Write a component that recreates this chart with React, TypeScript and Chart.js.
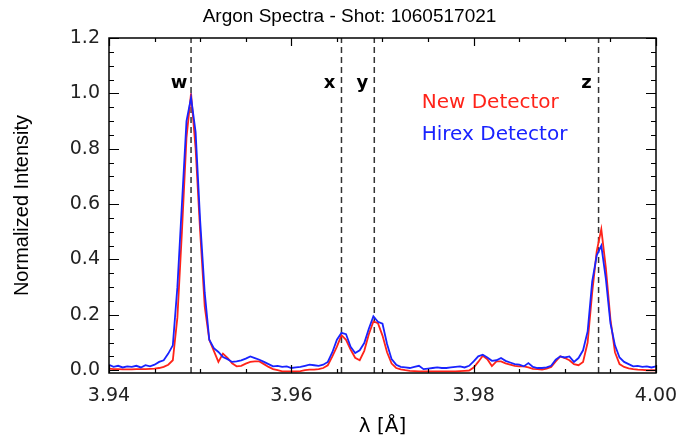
import React, { useEffect, useRef } from 'react';
import { Chart, registerables } from 'chart.js';

Chart.register(...registerables);

// Wavelength sampling grid (Å)
const WAVELENGTHS: number[] = Array.from({ length: 121 }, (_, i) => +(3.94 + i * 0.0005).toFixed(4));

// Normalized intensities
const NEW_DETECTOR: number[] = [
  0.006, 0.004, 0.004, 0.003, 0.003, 0.003, 0.004, 0.004, 0.004, 0.005,
  0.006, 0.008, 0.012, 0.02, 0.036, 0.19, 0.5, 0.84, 1.0, 0.8,
  0.5, 0.23, 0.11, 0.07, 0.03, 0.06, 0.045, 0.025, 0.014, 0.016,
  0.024, 0.03, 0.032, 0.032, 0.022, 0.012, 0.004, 0.0, -0.004, -0.004,
  -0.004, -0.004, -0.003, 0.0, 0.002, 0.002, 0.004, 0.008, 0.018, 0.05,
  0.085, 0.127, 0.11, 0.075, 0.045, 0.036, 0.07, 0.13, 0.176, 0.17,
  0.125, 0.065, 0.024, 0.008, 0.003, 0.0, -0.002, -0.003, -0.004, -0.004,
  -0.004, -0.004, -0.004, -0.004, -0.004, -0.004, -0.004, -0.003, -0.002, -0.001,
  0.01, 0.03, 0.052, 0.04, 0.015, 0.032, 0.032, 0.025, 0.02, 0.016,
  0.014, 0.014, 0.01, 0.005, 0.004, 0.002, 0.006, 0.012, 0.032, 0.05,
  0.044, 0.036, 0.022, 0.018, 0.03, 0.1, 0.28, 0.43, 0.51, 0.37,
  0.185, 0.065, 0.022, 0.012, 0.007, 0.004, 0.002, 0.001, 0.0, 0.0,
  0.0,
];

const HIREX_DETECTOR: number[] = [
  0.02, 0.012, 0.016, 0.01, 0.014, 0.012, 0.016, 0.01, 0.018, 0.014,
  0.02, 0.03, 0.036, 0.06, 0.09, 0.3, 0.6, 0.9, 0.985, 0.86,
  0.54, 0.28, 0.11, 0.08, 0.066, 0.048, 0.04, 0.03, 0.032, 0.036,
  0.042, 0.05, 0.044, 0.038, 0.03, 0.022, 0.014, 0.016, 0.012, 0.014,
  0.008, 0.01, 0.012, 0.016, 0.02, 0.018, 0.016, 0.02, 0.03, 0.065,
  0.11, 0.135, 0.13, 0.085, 0.062, 0.072, 0.098, 0.15, 0.195, 0.175,
  0.168, 0.095, 0.04, 0.02, 0.012, 0.01, 0.008, 0.012, 0.016, 0.004,
  0.006, 0.008, 0.01, 0.008, 0.008, 0.01, 0.012, 0.014, 0.01, 0.016,
  0.032, 0.05, 0.056, 0.046, 0.034, 0.036, 0.044, 0.034, 0.028, 0.022,
  0.02, 0.014, 0.026, 0.012, 0.008, 0.008, 0.01, 0.016, 0.038, 0.05,
  0.046, 0.05, 0.03, 0.044, 0.072, 0.14, 0.32, 0.415, 0.45, 0.33,
  0.17, 0.09, 0.046, 0.03, 0.022, 0.014, 0.016, 0.012, 0.014, 0.01,
  0.014,
];

// Spectral line markers
const LINE_NAMES: string[] = ['w', 'x', 'y', 'z'];
const LINE_POSITIONS: number[] = [3.949, 3.9655, 3.9691, 3.9937];

// Axis ticks
const X_TICKS: number[] = [3.94, 3.96, 3.98, 4.0];
const Y_TICKS: number[] = [0, 0.2, 0.4, 0.6, 0.8, 1.0, 1.2];

const SERIES_NAMES: string[] = ['New Detector', 'Hirex Detector'];
const TITLE = 'Argon Spectra - Shot: 1060517021';

const RED = 'rgb(255,35,25)';
const BLUE = 'rgb(25,35,255)';

const decorPlugin = {
  id: 'decor',
  afterDatasetsDraw(chart: any) {
    const { ctx, chartArea: a, scales, width } = chart;
    const x = scales.x;
    const y = scales.y;
    ctx.save();
    // title
    ctx.font = '19px "Liberation Sans"';
    ctx.fillStyle = '#000';
    ctx.textAlign = 'center';
    ctx.textBaseline = 'middle';
    ctx.fillText(TITLE, width / 2, 17);
    // line labels
    ctx.font = 'bold 18px "DejaVu Sans"';
    LINE_NAMES.forEach((n, i) => {
      ctx.fillText(n, x.getPixelForValue(LINE_POSITIONS[i]) - 12, y.getPixelForValue(1.035));
    });
    // legend text
    ctx.font = '20px "DejaVu Sans"';
    ctx.textAlign = 'left';
    ctx.fillStyle = RED;
    ctx.fillText(SERIES_NAMES[0], x.getPixelForValue(3.9743), y.getPixelForValue(0.967));
    ctx.fillStyle = BLUE;
    ctx.fillText(SERIES_NAMES[1], x.getPixelForValue(3.9743), y.getPixelForValue(0.852));
    // frame
    ctx.strokeStyle = '#000';
    ctx.lineWidth = 1.5;
    ctx.strokeRect(a.left, a.top, a.right - a.left, a.bottom - a.top);
    // inward ticks
    ctx.lineWidth = 1.2;
    ctx.beginPath();
    for (let k = 0; k <= 12; k++) {
      const px = Math.round(x.getPixelForValue(3.94 + k * 0.005)) + 0.5;
      const len = k % 4 === 0 ? 8 : 4;
      ctx.moveTo(px, a.bottom);
      ctx.lineTo(px, a.bottom - len);
      ctx.moveTo(px, a.top);
      ctx.lineTo(px, a.top + len);
    }
    for (let k = 0; k <= 24; k++) {
      const py = Math.round(y.getPixelForValue(k * 0.05)) + 0.5;
      const len = k % 4 === 0 ? 10 : 5;
      ctx.moveTo(a.left, py);
      ctx.lineTo(a.left + len, py);
      ctx.moveTo(a.right, py);
      ctx.lineTo(a.right - len, py);
    }
    ctx.stroke();
    ctx.restore();
  },
};

export default function App() {
  const canvasRef = useRef<HTMLCanvasElement | null>(null);

  useEffect(() => {
    const canvas = canvasRef.current;
    if (!canvas) return;
    const lineSets = LINE_POSITIONS.map((p, i) => ({
      label: LINE_NAMES[i],
      data: [
        { x: p, y: -0.01 },
        { x: p, y: 1.2 },
      ],
      borderColor: '#333',
      borderWidth: 1.5,
      borderDash: [6, 4],
      pointRadius: 0,
      fill: false,
    }));
    const chart = new Chart(canvas, {
      type: 'line',
      data: {
        datasets: [
          {
            label: SERIES_NAMES[1],
            data: WAVELENGTHS.map((w, i) => ({ x: w, y: HIREX_DETECTOR[i] })),
            borderColor: BLUE,
            borderWidth: 1.8,
            pointRadius: 0,
            tension: 0,
            fill: false,
          },
          {
            label: SERIES_NAMES[0],
            data: WAVELENGTHS.map((w, i) => ({ x: w, y: NEW_DETECTOR[i] })),
            borderColor: RED,
            borderWidth: 1.8,
            pointRadius: 0,
            tension: 0,
            fill: false,
          },
          ...lineSets,
        ],
      },
      options: {
        animation: false,
        responsive: false,
        devicePixelRatio: 1,
        layout: { padding: { left: 0, right: 43, top: 38, bottom: 0 } },
        plugins: {
          legend: { display: false },
          tooltip: { enabled: false },
          title: { display: false },
        },
        scales: {
          x: {
            type: 'linear',
            min: 3.94,
            max: 4.0,
            afterBuildTicks: (s: any) => {
              s.ticks = X_TICKS.map((v) => ({ value: v }));
            },
            afterFit: (s: any) => {
              s.height = 66;
            },
            ticks: {
              autoSkip: false,
              maxRotation: 0,
              padding: 12,
              color: '#222',
              font: { family: '"DejaVu Sans"', size: 19 },
              callback: (v: any) => Number(v).toFixed(2),
            },
            grid: { display: false, drawTicks: false },
            border: { display: false },
            title: {
              display: true,
              text: 'λ [Å]',
              color: '#000',
              font: { family: '"DejaVu Sans"', size: 20, lineHeight: 1.2 },
              padding: { top: 0, bottom: 0 },
            },
          },
          y: {
            type: 'linear',
            min: -0.01,
            max: 1.2,
            afterBuildTicks: (s: any) => {
              s.ticks = Y_TICKS.map((v) => ({ value: v }));
            },
            afterFit: (s: any) => {
              s.width = 109;
            },
            ticks: {
              autoSkip: false,
              padding: 9,
              color: '#222',
              font: { family: '"DejaVu Sans"', size: 19 },
              callback: (v: any) => Number(v).toFixed(1),
            },
            grid: { display: false, drawTicks: false },
            border: { display: false },
            title: {
              display: true,
              text: 'Normalized Intensity',
              color: '#000',
              font: { family: '"Liberation Sans"', size: 20, lineHeight: 1.2 },
              padding: { top: 10, bottom: 0 },
            },
          },
        },
      },
      plugins: [decorPlugin],
    } as any);
    return () => chart.destroy();
  }, []);

  return (
    <div style={{ position: 'absolute', left: 0, top: 0, width: 699, height: 439, background: '#fff' }}>
      <canvas ref={canvasRef} width={699} height={439} />
    </div>
  );
}
